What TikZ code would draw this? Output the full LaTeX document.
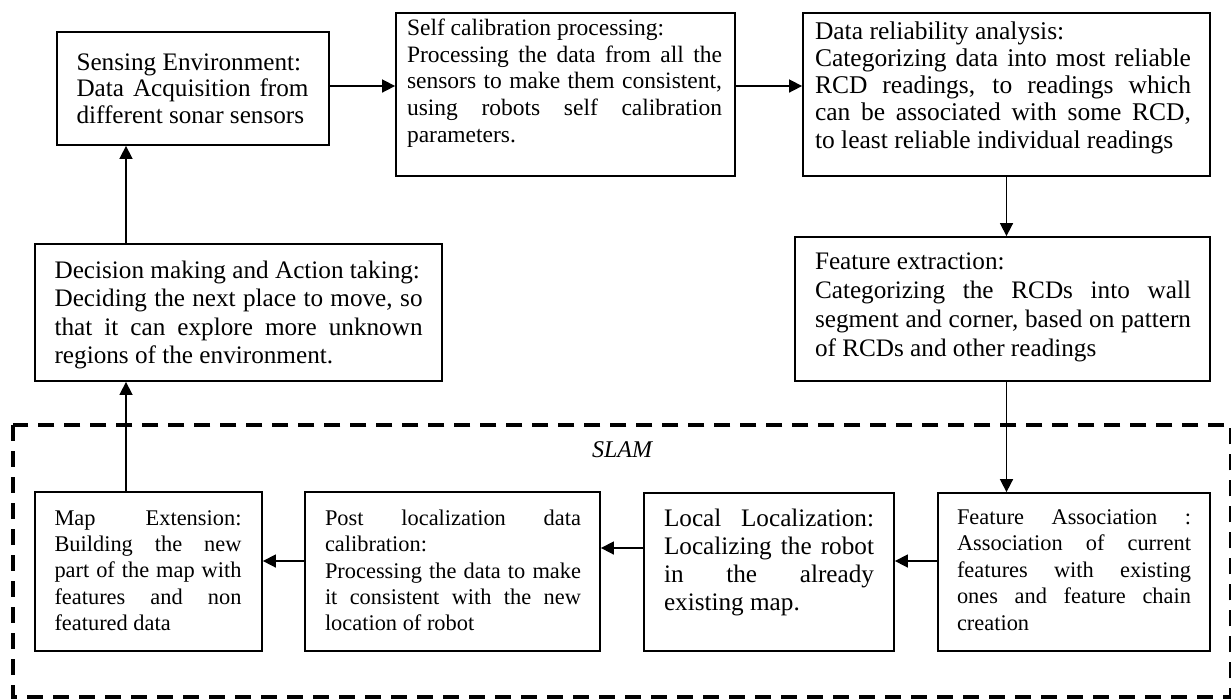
\documentclass[tikz,border=0pt]{standalone}
\usepackage{fontspec}
\setmainfont{Liberation Serif}
\usetikzlibrary{arrows.meta}
\tikzset{
  box/.style={draw, line width=0.9pt, rectangle, inner sep=0pt},
  txt/.style={inner sep=0pt, align=justify},
  arr/.style={line width=0.8pt, -{Triangle[length=6.5pt,width=6.5pt]}},
  slamline/.style={line width=2pt, dash pattern=on 8pt off 5pt},
}
\begin{document}
\begin{tikzpicture}[x=0.5pt,y=-0.5pt]
\useasboundingbox (0,0) rectangle (1231,698);
% boxes
\node[box, minimum width=136pt, minimum height=56.5pt] (sense) at (193,88.5) {};
\node[box, minimum width=169.5pt, minimum height=81.5pt] (selfcal) at (565.5,94.5) {};
\node[box, minimum width=203.5pt, minimum height=81.5pt] (datarel) at (1006.5,94.5) {};
\node[box, minimum width=203.5pt, minimum height=68.5pt] (decision) at (238.5,312.5) {};
\node[box, minimum width=207.5pt, minimum height=72pt] (featext) at (1002.5,309) {};
\node[box, minimum width=113.5pt, minimum height=79.5pt] (mapext) at (148.5,571.5) {};
\node[box, minimum width=147.5pt, minimum height=79.5pt] (postloc) at (452.5,571.5) {};
\node[box, minimum width=125pt, minimum height=79pt] (localloc) at (769,572) {};
\node[box, minimum width=136pt, minimum height=79pt] (featassoc) at (1074,572) {};
% texts
\node[txt, text width=116pt, font=\fontsize{12.6}{13.35}\selectfont] (tsense) at (192.5,88.5)
 {Sensing Environment:\\ Data Acquisition from\linebreak different sonar sensors};
\node[txt, text width=157.5pt, font=\fontsize{11.75}{13.35}\selectfont] (tselfcal) at (564.5,83)
 {Self calibration processing:\\ Processing the data from all the\linebreak sensors to make them consistent,\linebreak using robots self calibration\linebreak parameters.};
\node[txt, text width=188pt, font=\fontsize{12.75}{13.6}\selectfont] (tdatarel) at (1003,87.5)
 {Data reliability analysis:\\ Categorizing data into most reliable\linebreak RCD readings, to readings which\linebreak can be associated with some RCD,\linebreak to least reliable individual readings};
\node[txt, text width=184pt, font=\fontsize{12.6}{14.3}\selectfont] (tdecision) at (238.6,315)
 {Decision making and Action taking:\\ Deciding the next place to move, so\linebreak that it can explore more unknown\linebreak regions of the environment.};
\node[txt, text width=188pt, font=\fontsize{12.6}{14.6}\selectfont] (tfeatext) at (1003,307.5)
 {Feature extraction:\\ Categorizing the RCDs into wall\linebreak segment and corner, based on pattern\linebreak of RCDs and other readings};
\node[txt, text width=93.5pt, font=\fontsize{11.2}{13.2}\selectfont] (tmapext) at (148,570.5)
 {Map Extension:\linebreak Building the new\linebreak part of the map with\linebreak features and non\linebreak featured data};
\node[txt, text width=128pt, font=\fontsize{11.2}{13.2}\selectfont] (tpostloc) at (453,570.5)
 {Post localization data\linebreak calibration:\\ Processing the data to make\linebreak it consistent with the new\linebreak location of robot};
\node[txt, text width=105pt, font=\fontsize{12.6}{14.15}\selectfont] (tlocalloc) at (769,562.5)
 {Local Localization:\linebreak Localizing the robot\linebreak in the already\linebreak existing map.};
\node[txt, text width=117pt, font=\fontsize{11.2}{13.2}\selectfont] (tfeatassoc) at (1074,570)
 {Feature Association :\linebreak Association of current\linebreak features with existing\linebreak ones and feature chain\linebreak creation};
% SLAM region
\draw[slamline] (12.7,425) rectangle (1231,696.5);
\node[inner sep=0pt, font=\fontsize{12}{14}\itshape] (slam) at (622,450) {SLAM};
% connector helpers
\coordinate (ax) at (126,0);
\coordinate (ay1) at (0,86);
\coordinate (ay2) at (0,561);
\coordinate (ay3) at (0,548);
% connectors
\draw[arr] (sense.east |- ay1) -- (selfcal.west |- ay1);
\draw[arr] (selfcal.east |- ay1) -- (datarel.west |- ay1);
\draw[arr] (datarel.south) -- (datarel.south |- featext.north);
\draw[arr] (datarel.south |- featext.south) -- (datarel.south |- featassoc.north);
\draw[arr] (featassoc.west |- ay2) -- (localloc.east |- ay2);
\draw[arr] (localloc.west |- ay3) -- (postloc.east |- ay3);
\draw[arr] (postloc.west |- ay2) -- (mapext.east |- ay2);
\draw[arr] (ax |- mapext.north) -- (ax |- decision.south);
\draw[arr] (ax |- decision.north) -- (ax |- sense.south);
\end{tikzpicture}
\end{document}
